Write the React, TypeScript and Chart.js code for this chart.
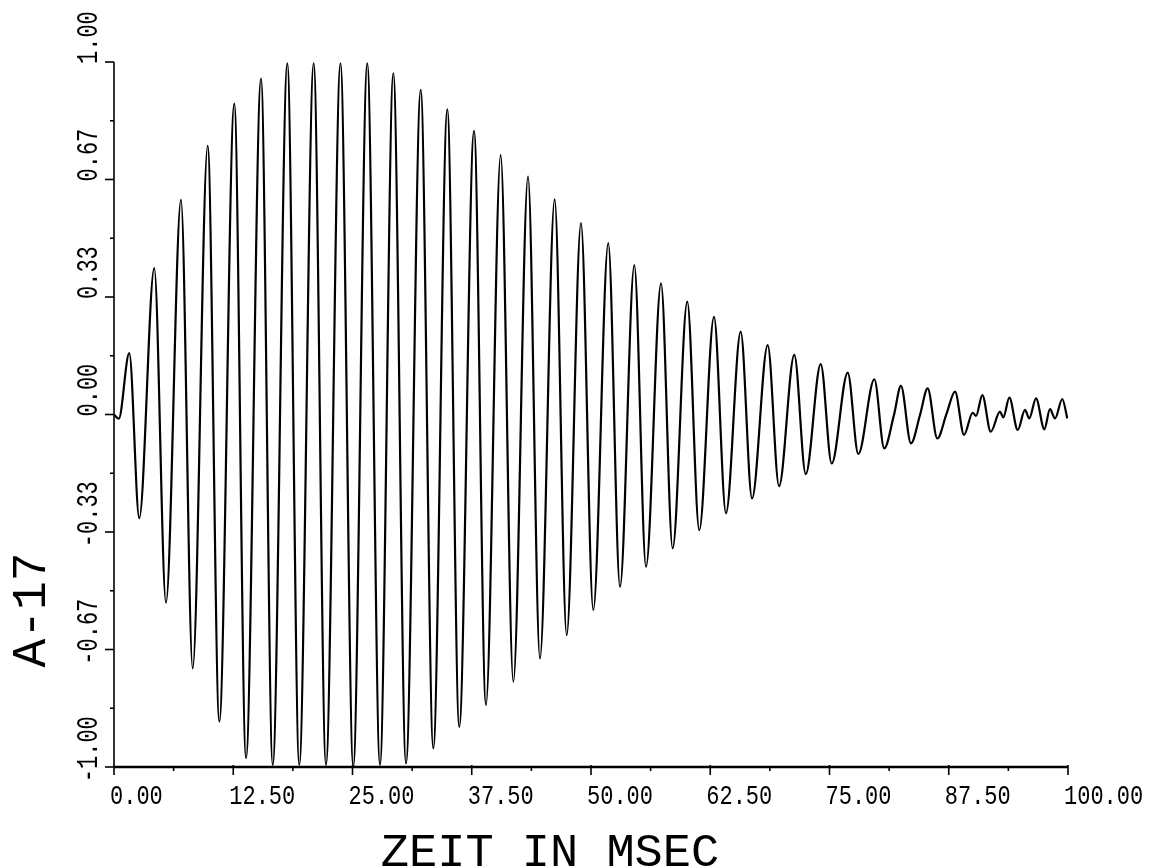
import React, { useEffect, useRef } from 'react';
import { Chart, registerables } from 'chart.js';

Chart.register(...registerables);

// Extremes (peaks / troughs / shoulders) of the trace
const TIME_MS = [
  0, 0.5, 1.6, 2.65, 4.22, 5.45, 7.02, 8.25, 9.82, 11.04, 12.61, 13.84, 15.41, 16.64,
  18.17, 19.42, 20.93, 22.22, 23.74, 25.08, 26.55, 27.88, 29.28, 30.61, 32.15, 33.47,
  34.94, 36.19, 37.74, 38.99, 40.53, 41.86, 43.4, 44.65, 46.19, 47.45, 48.95, 50.24,
  51.81, 53.04, 54.54, 55.77, 57.34, 58.56, 60.09, 61.35, 62.89, 64.15, 65.69, 66.88,
  68.52, 69.71, 71.31, 72.51, 74.08, 75.23, 76.91, 78.02, 79.7, 80.74, 81.76, 82.49,
  83.54, 84.49, 85.29, 86.3, 87.28, 88.16, 89.1, 90.01, 90.36, 91.02, 91.9, 92.87,
  93.22, 93.85, 94.73, 95.49, 95.94, 96.65, 97.52, 98.11, 98.64, 99.4, 99.93,
];

const AMPLITUDE = [
  0, -0.012, 0.174, -0.294, 0.415, -0.534, 0.609, -0.72, 0.762, -0.871, 0.882, -0.975,
  0.953, -0.994, 0.996, -0.994, 0.996, -0.994, 0.996, -0.999, 0.996, -0.994, 0.968,
  -0.99, 0.921, -0.947, 0.866, -0.886, 0.805, -0.824, 0.736, -0.758, 0.675, -0.692,
  0.61, -0.626, 0.543, -0.555, 0.486, -0.489, 0.424, -0.432, 0.372, -0.38, 0.32,
  -0.328, 0.277, -0.28, 0.235, -0.238, 0.197, -0.203, 0.169, -0.169, 0.143, -0.139,
  0.119, -0.112, 0.1, -0.096, -0.001, 0.081, -0.082, -0.001, 0.074, -0.068, 0.003,
  0.065, -0.058, 0.005, -0.004, 0.055, -0.049, 0.008, -0.008, 0.048, -0.044, 0.013,
  -0.011, 0.046, -0.042, 0.015, -0.011, 0.044, -0.011,
];

const X_TICKS = [0, 12.5, 25, 37.5, 50, 62.5, 75, 87.5, 100];
const X_TICK_LABELS = ['0.00', '12.50', '25.00', '37.50', '50.00', '62.50', '75.00', '87.50', '100.00'];
const X_MINOR_TICKS = [6.25, 18.75, 31.25, 43.75, 56.25, 68.75, 81.25, 93.75];

const Y_TICKS = [-1, -0.6667, -0.3333, 0, 0.3333, 0.6667, 1];
const Y_TICK_LABELS = ['-1.00', '-0.67', '-0.33', '0.00', '0.33', '0.67', '1.00'];
const Y_MINOR_TICKS = [-0.8333, -0.5, -0.1667, 0.1667, 0.5, 0.8333];

const X_TITLE = 'ZEIT IN MSEC';
const Y_TITLE = 'A-17';

const FONT = '"Liberation Mono", "DejaVu Sans Mono", monospace';

function drawText(
  ctx: CanvasRenderingContext2D,
  text: string,
  x: number,
  y: number,
  size: number,
  stretch: number,
  rot: number,
  align: CanvasTextAlign
) {
  ctx.save();
  ctx.translate(x, y);
  if (rot) ctx.rotate(rot);
  ctx.scale(1, stretch);
  ctx.font = `${size}px ${FONT}`;
  ctx.textAlign = align;
  ctx.textBaseline = 'alphabetic';
  ctx.fillStyle = '#000';
  ctx.fillText(text, 0, 0);
  ctx.restore();
}

const axesPlugin = {
  id: 'plotterAxes',
  afterDraw(chart: any) {
    const { ctx, chartArea: a, scales } = chart;
    const xs = scales.x;
    const ys = scales.y;
    ctx.save();
    ctx.strokeStyle = '#000';
    ctx.lineCap = 'butt';

    // y axis line
    ctx.lineWidth = 1.6;
    ctx.beginPath();
    ctx.moveTo(a.left, a.top);
    ctx.lineTo(a.left, a.bottom);
    ctx.stroke();

    // x axis line
    ctx.lineWidth = 2.6;
    ctx.beginPath();
    ctx.moveTo(a.left, a.bottom);
    ctx.lineTo(a.right, a.bottom);
    ctx.stroke();

    // y ticks
    ctx.lineWidth = 1.6;
    Y_TICKS.forEach((v) => {
      const py = ys.getPixelForValue(v);
      ctx.beginPath();
      ctx.moveTo(a.left - 9, py);
      ctx.lineTo(a.left, py);
      ctx.stroke();
    });
    Y_MINOR_TICKS.forEach((v) => {
      const py = ys.getPixelForValue(v);
      ctx.beginPath();
      ctx.moveTo(a.left - 4, py);
      ctx.lineTo(a.left, py);
      ctx.stroke();
    });

    // x ticks
    X_TICKS.forEach((v) => {
      const px = xs.getPixelForValue(v);
      ctx.beginPath();
      ctx.moveTo(px, a.bottom - 2);
      ctx.lineTo(px, a.bottom + 8);
      ctx.stroke();
    });
    X_MINOR_TICKS.forEach((v) => {
      const px = xs.getPixelForValue(v);
      ctx.beginPath();
      ctx.moveTo(px, a.bottom);
      ctx.lineTo(px, a.bottom + 4);
      ctx.stroke();
    });
    ctx.restore();

    // x tick labels
    X_TICKS.forEach((v, i) => {
      const px = xs.getPixelForValue(v);
      drawText(ctx, X_TICK_LABELS[i], px - 4, a.bottom + 37, 22, 1.24, 0, 'left');
    });

    // y tick labels (rotated, reading upwards)
    ctx.save();
    ctx.font = `22px ${FONT}`;
    const minusW = ctx.measureText('-').width;
    ctx.restore();
    Y_TICKS.forEach((v, i) => {
      const py = ys.getPixelForValue(v);
      const lbl = Y_TICK_LABELS[i];
      const off = lbl.startsWith('-') ? minusW : 0;
      drawText(ctx, lbl, a.left - 17, py + 2 + off, 22, 1.3, -Math.PI / 2, 'left');
    });

    // titles
    drawText(ctx, X_TITLE, 550, 866, 47, 1.0, 0, 'center');
    drawText(ctx, Y_TITLE, 45, 610, 48, 1.0, -Math.PI / 2, 'center');
  },
};

export default function App() {
  const canvasRef = useRef<HTMLCanvasElement | null>(null);

  useEffect(() => {
    const canvas = canvasRef.current;
    if (!canvas) return;
    const chart = new Chart(canvas, {
      type: 'line',
      data: {
        datasets: [
          {
            data: TIME_MS.map((t, i) => ({ x: t, y: AMPLITUDE[i] })),
            borderColor: '#000',
            borderWidth: 2.2,
            pointRadius: 0,
            fill: false,
            tension: 0.4,
            cubicInterpolationMode: 'monotone',
          },
        ],
      },
      options: {
        responsive: false,
        animation: false,
        devicePixelRatio: 1,
        layout: { padding: { left: 114, right: 83, top: 62, bottom: 100 } },
        plugins: { legend: { display: false }, tooltip: { enabled: false } },
        events: [],
        scales: {
          x: { type: 'linear', min: 0, max: 100, display: false },
          y: { type: 'linear', min: -1, max: 1, display: false },
        },
      },
      plugins: [axesPlugin],
    });
    return () => chart.destroy();
  }, []);

  return (
    <div style={{ position: 'fixed', left: 0, top: 0, width: 1151, height: 867, background: '#fff' }}>
      <canvas ref={canvasRef} width={1151} height={867} style={{ display: 'block', width: 1151, height: 867 }} />
    </div>
  );
}
